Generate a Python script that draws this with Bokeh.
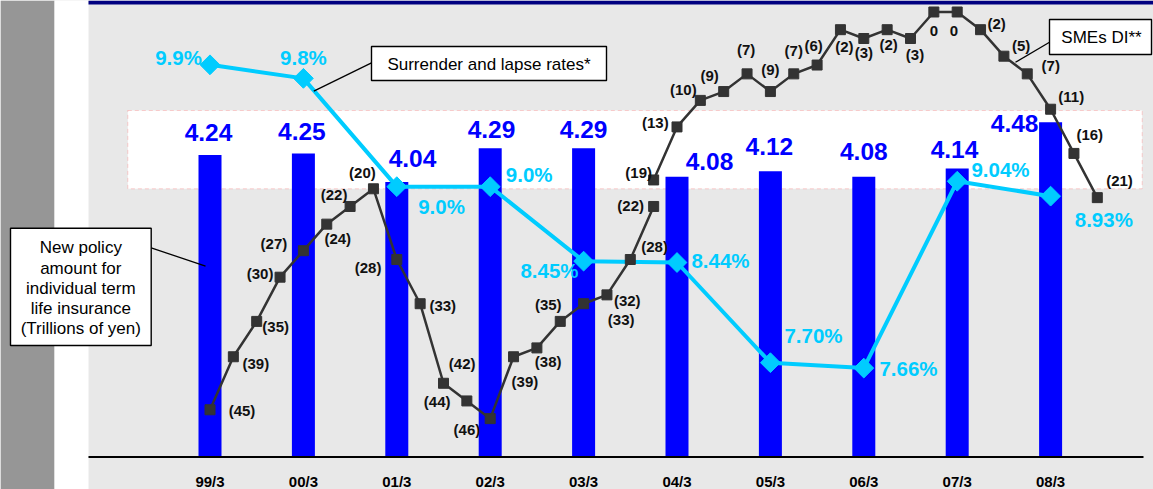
import math

from bokeh.core.properties import value
from bokeh.embed import file_html
from bokeh.models import (Arrow, BoxAnnotation, ColumnDataSource, Label,
                          Range1d)
from bokeh.plotting import figure
from bokeh.resources import INLINE

# Fiscal year-end categories (March)
categories = ["99/3", "00/3", "01/3", "02/3", "03/3",
              "04/3", "05/3", "06/3", "07/3", "08/3"]

# New policy amount for individual term life insurance (trillions of yen)
policy_amount = [4.24, 4.25, 4.04, 4.29, 4.29, 4.08, 4.12, 4.08, 4.14, 4.48]

# Surrender and lapse rates (%) and the decimals each is quoted with
lapse_rate = [9.9, 9.8, 9.0, 9.0, 8.45, 8.44, 7.70, 7.66, 9.04, 8.93]
lapse_decimals = [1, 1, 1, 1, 2, 2, 2, 2, 2, 2]

# SMEs DI, quarterly from 99/3; the survey series is revised at 03/12
sme_di_old = [-45, -39, -35, -30, -27, -24, -22, -20, -28, -33,
              -42, -44, -46, -39, -38, -35, -33, -32, -28, -22]
sme_di_new = [-19, -13, -10, -9, -7, -9, -7, -6, -2, -3,
              -2, -3, 0, 0, -2, -5, -7, -11, -16, -21]
sme_break_quarter = 19  # quarter index (from 99/3) where the new series starts

# ---- layout -------------------------------------------------------------
W, H = 1153, 489
BASE_Y = 457                      # canvas y of the category baseline
PX0, STEP = 209.5, 93.4           # screen x of first category, px per year
BAR_HI, BAR_PX = 5.378, 135.7     # bar axis value at the top edge, px per unit
BAR_FLOOR = BAR_HI - BASE_Y / BAR_PX   # bar axis value on the baseline
RATE_HI, RATE_PX = 10.375, 135.4
SME_HI, SME_PX = 1.3, 8.84
FONT = "Liberation Sans"

BLUE = "#0000FF"
CYAN = "#00CCFF"
DARK = "#333333"
STRIP_GREY = "#969696"


def cx(px):
    """Canvas x (px) to data x, for callouts and decorations."""
    return (px - PX0) / STEP


def cy(py):
    """Canvas y (px) to the bar axis value, for callouts and decorations."""
    return BAR_HI - py / BAR_PX


p = figure(width=W, height=H, output_backend="svg", toolbar_location=None,
           x_range=Range1d(cx(0), cx(W)),
           y_range=Range1d(BAR_HI - H / BAR_PX, BAR_HI),
           x_axis_location=None, y_axis_location=None,
           min_border_left=0, min_border_right=0, min_border_top=0,
           min_border_bottom=0,
           background_fill_color="#E8E8E8", border_fill_color="#E8E8E8",
           outline_line_color=None)
p.extra_y_ranges = {"rate": Range1d(RATE_HI - H / RATE_PX, RATE_HI),
                    "sme": Range1d(SME_HI - H / SME_PX, SME_HI)}
p.xgrid.grid_line_color = None
p.ygrid.grid_line_color = None

# page decorations: side strips and the header rule
p.add_layout(BoxAnnotation(right=cx(54), fill_color=STRIP_GREY,
                           fill_alpha=1, line_color=None, level="underlay"))
p.add_layout(BoxAnnotation(left=cx(54), right=cx(88), fill_color="white",
                           fill_alpha=1, line_color=None, level="underlay"))
p.add_layout(BoxAnnotation(left=cx(88), bottom=cy(4), fill_color="#000080",
                           fill_alpha=1, line_color=None, level="underlay"))

# highlighted band behind the bar values
p.add_layout(BoxAnnotation(left=cx(127.3), right=cx(1141.7), top=cy(110),
                           bottom=cy(188.3), fill_color="white", fill_alpha=1,
                           line_color="#FF6B6B", line_width=1, line_dash="4 3",
                           level="underlay"))

xs = list(range(len(categories)))

# ---- bars ---------------------------------------------------------------
BAR_FS = 24.5
bar_dx = [-1.5, -1.5, 15.7, 1.3, 0, 32.5, -1, 0, -2.7, -36]
bar_dy = [-13.7, -13, -14.8, -9.9, -9.9, -6.1, -15.7, -16.1, -10.6, 9.9]
bar_src = ColumnDataSource(dict(
    x=xs, amount=policy_amount,
    label=[f"{v:.2f}" for v in policy_amount],
    dx=bar_dx, dy=[d - 0.36 * BAR_FS for d in bar_dy]))
p.vbar(x="x", top="amount", bottom=BAR_FLOOR, width=23 / STEP,
       source=bar_src, fill_color=BLUE, line_color=None)

# category baseline and labels
p.add_layout(BoxAnnotation(left=cx(88), right=cx(1143), top=cy(BASE_Y - 1.5),
                           bottom=cy(BASE_Y + 0.5), fill_color="black",
                           fill_alpha=1, line_color=None))
p.text(x=xs, y=[cy(481)] * len(xs), text=categories, text_align="center",
       text_baseline="middle", text_font=value(FONT), text_font_style="bold",
       text_font_size="15px", text_color="black")

# ---- surrender and lapse rates -----------------------------------------
RATE_FS = 20.5
rate_dx = [-31.5, 0, 44.7, 39, -34.1, 43.5, 43.1, 44.7, 43.3, 53.2]
rate_dy = [0, -13.5, 27.1, -5.2, 17, 5.6, -19.6, 7.7, -4.7, 30.4]
rate_src = ColumnDataSource(dict(
    x=xs, rate=lapse_rate,
    label=[f"{v:.{d}f}%" for v, d in zip(lapse_rate, lapse_decimals)],
    dx=rate_dx, dy=[d - 0.36 * RATE_FS for d in rate_dy]))
p.line(x="x", y="rate", source=rate_src, y_range_name="rate",
       line_color=CYAN, line_width=4)
p.scatter(x="x", y="rate", source=rate_src, y_range_name="rate",
          marker="square", angle=math.pi / 4, size=14,
          fill_color=CYAN, line_color=CYAN)

# ---- SMEs DI ------------------------------------------------------------
old_x = [q / 4 for q in range(len(sme_di_old))]
new_x = [(sme_break_quarter + q) / 4 for q in range(len(sme_di_new))]
sme_dx = [32, 22.5, 19, -20, -29.5, 11, -16, -11, -28.7, 22.6,
          18.7, -29.7, -23.3, 11.4, 11.3, -12, 37.6, 20.3, 24.3, -23,
          -15, -21.7, -17, -14, -1, 0, 0, -3.5, 4, 0,
          1.5, 4.5, 0, -3.3, 16, 17.3, 23.5, 20.6, 15.8, 22.2]
sme_dy = [1, 7, 5, -4, -7, 14.5, -12, -16, 8, 1.6,
          -20, 0.3, 11, 25, 13.7, -16.4, 16, 5.7, -12.7, -0.7,
          -7.4, -4.3, -11, -15.7, -24.4, -22.4, -23.4, -19.3, 16.7, 14,
          15, 15.6, 19, 19, -6, -11, -8.7, -12.6, -18.7, -16.7]
sme_all = sme_di_old + sme_di_new
sme_src = ColumnDataSource(dict(
    x=old_x + new_x, di=sme_all,
    label=[f"({-v})" if v < 0 else str(v) for v in sme_all],
    dx=sme_dx, dy=sme_dy))
p.line(x=old_x, y=sme_di_old, y_range_name="sme", line_color=DARK, line_width=2.5)
p.line(x=new_x, y=sme_di_new, y_range_name="sme", line_color=DARK, line_width=2.5)
p.scatter(x="x", y="di", source=sme_src, y_range_name="sme", marker="square",
          size=10, fill_color=DARK, line_color=DARK)

# ---- value labels -------------------------------------------------------
p.text(x="x", y="amount", text="label", source=bar_src,
       x_offset="dx", y_offset="dy", text_align="center",
       text_baseline="middle", text_font=value(FONT),
       text_font_style="bold", text_font_size=f"{BAR_FS}px", text_color=BLUE)
p.text(x="x", y="rate", text="label", source=rate_src, y_range_name="rate",
       x_offset="dx", y_offset="dy", text_align="center",
       text_baseline="middle", text_font=value(FONT),
       text_font_style="bold", text_font_size=f"{RATE_FS}px", text_color=CYAN)
p.text(x="x", y="di", text="label", source=sme_src, y_range_name="sme",
       x_offset="dx", y_offset="dy", text_align="center",
       text_baseline="middle", text_font=value(FONT),
       text_font_style="bold", text_font_size="15px", text_color="#111111")

# ---- callouts -----------------------------------------------------------
def callout(left, right, top, bottom, lines, centre_x, first_y, line_gap,
            leader):
    p.add_layout(Arrow(end=None, x_start=cx(leader[0]), y_start=cy(leader[1]),
                       x_end=cx(leader[2]), y_end=cy(leader[3]),
                       line_color="black", line_width=1.3))
    p.add_layout(BoxAnnotation(left=cx(left), right=cx(right), top=cy(top),
                               bottom=cy(bottom), fill_color="white",
                               fill_alpha=1, line_color="black",
                               line_width=1.4, line_alpha=1))
    for k, t in enumerate(lines):
        p.add_layout(Label(x=cx(centre_x), y=cy(first_y + k * line_gap), text=t,
                           text_align="center", text_baseline="middle",
                           text_font=FONT, text_font_size="17px",
                           text_color="black"))


callout(371, 606, 46, 80, ["Surrender and lapse rates*"], 488.5, 63.5, 0,
        (371, 62.3, 313.3, 90.7))
callout(1049, 1151, 19, 54, ["SMEs DI**"], 1101, 37, 0,
        (1049, 41.7, 1015, 61.7))
callout(10, 150.7, 227.7, 345,
        ["New policy", "amount for", "individual term", "life insurance",
         "(Trillions of yen)"], 80.3, 247.3, 20.25,
        (150.7, 247.3, 205, 265.7))

open("out.html", "w").write(file_html(p, INLINE))
